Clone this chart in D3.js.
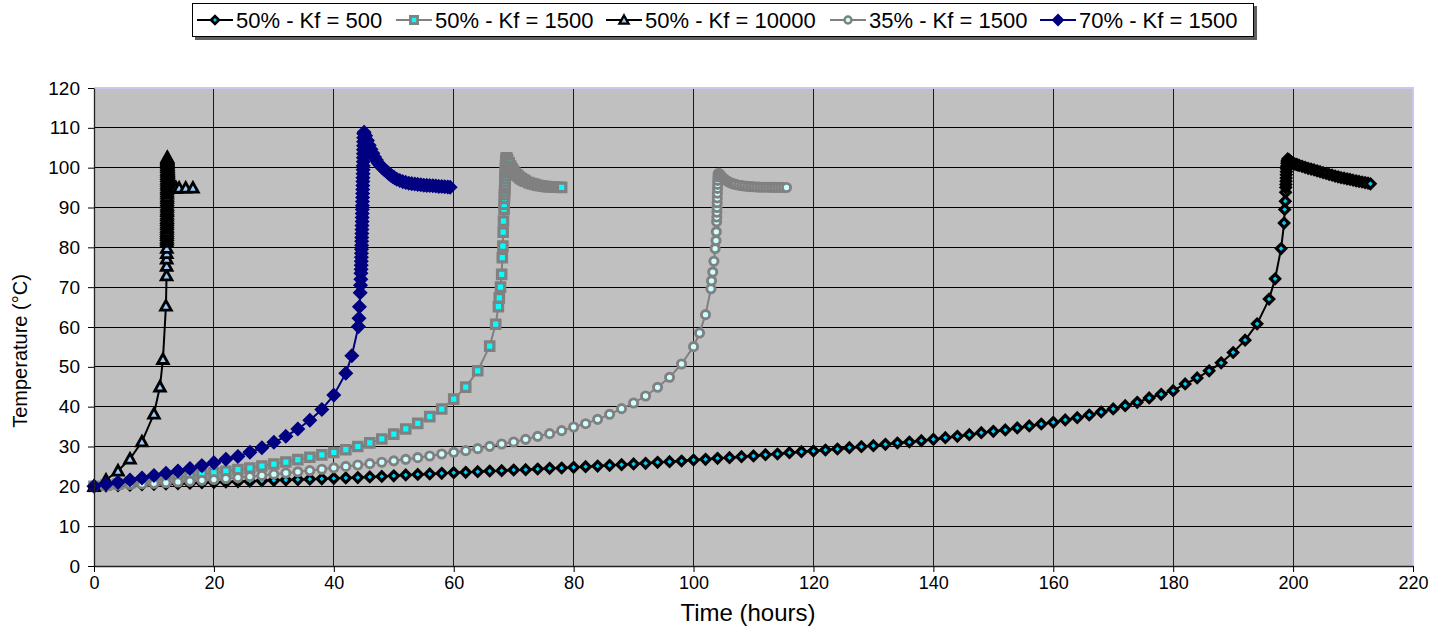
<!DOCTYPE html>
<html><head><meta charset="utf-8">
<script src="https://cdn.jsdelivr.net/npm/d3@7"></script>
<style>
html,body{margin:0;padding:0;background:#fff;}
svg{display:block;font-family:Arial,"Liberation Sans",sans-serif;}
</style></head><body>
<svg id="chart" width="1449" height="627"></svg>
<script>
// ---------- DATA ----------
const seriesNames = ["50% - Kf = 500", "50% - Kf = 1500", "50% - Kf = 10000", "35% - Kf = 1500", "70% - Kf = 1500"];
const xTickValues = [0,20,40,60,80,100,120,140,160,180,200,220];
const yTickValues = [0,10,20,30,40,50,60,70,80,90,100,110,120];
const xTitle = "Time (hours)";
const yTitle = "Temperature (°C)";

// [time (hours), temperature (°C)]
const kf500 = [[0,20],[2,20.1],[4,20.2],[6,20.3],[8,20.4],[10,20.5],[12,20.6],[14,20.7],[16,20.8],[18,20.9],[20,21.0],[22,21.1],[24,21.2],[26,21.3],[28,21.4],[30,21.5],[32,21.6],[34,21.7],[36,21.8],[38,21.9],[40,22.0],[42,22.1],[44,22.2],[46,22.35],[48,22.5],[50,22.65],[52,22.85],[54,23.0],[56,23.1],[58,23.27],[60,23.43],[62,23.52],[64,23.68],[66,23.85],[68,23.94],[70,24.1],[72,24.19],[74,24.35],[76,24.52],[78,24.6],[80,24.77],[82,24.94],[84,25.1],[86,25.27],[88,25.44],[90,25.61],[92,25.78],[94,26.03],[96,26.19],[98,26.36],[100,26.61],[102,26.78],[104,27.03],[106,27.2],[108,27.45],[110,27.62],[112,27.95],[114,28.12],[116,28.45],[118,28.7],[120,28.87],[122,29.12],[124,29.37],[126,29.71],[128,29.96],[130,30.21],[132,30.55],[134,30.88],[136,31.13],[138,31.47],[140,31.8],[142,32.22],[144,32.55],[146,32.97],[148,33.47],[150,33.81],[152,34.15],[154,34.65],[156,35.15],[158,35.65],[160,36.07],[162,36.66],[164,37.24],[166,37.91],[168,38.66],[170,39.42],[172,40.25],[174,41.09],[176,42.18],[178,43.1],[180,44.02],[182,45.7],[184,47.2],[186,49.0],[188,51.0],[190,53.6],[192,56.7],[194,60.8],[196,67.0],[197,72.1],[198,79.7],[198.5,86.1],[198.6,89.5],[198.7,91.6],[198.75,93.8],[198.78,95.0],[198.8,95.8],[198.82,96.6],[198.84,97.4],[198.86,98.2],[198.88,99.0],[198.9,99.7],[198.93,100.4],[198.96,101.1],[199.0,101.7],[199.1,102.2],[199.3,102.0],[199.5,101.7],[199.75,101.4],[200,101.1],[200.25,100.95],[200.5,100.85],[200.75,100.7],[201,100.6],[201.5,100.35],[202,100.1],[202.5,99.85],[203,99.65],[203.5,99.45],[204,99.2],[204.5,99.0],[205,98.75],[205.5,98.55],[206,98.3],[206.5,98.1],[207,97.9],[207.5,97.7],[208,97.5],[208.5,97.35],[209,97.2],[209.5,97.05],[210,96.85],[210.5,96.7],[211,96.55],[211.5,96.4],[212,96.25],[212.5,96.1],[212.9,95.95]];

const kf1500 = [[0,20],[2,20.3],[4,20.6],[6,20.9],[8,21.2],[10,21.5],[12,21.85],[14,22.2],[16,22.6],[18,23.0],[20,23.4],[22,23.8],[24,24.2],[26,24.6],[28,25.1],[30,25.6],[32,26.1],[34,26.7],[36,27.3],[38,27.9],[40,28.5],[42,29.2],[44,30.0],[46,30.9],[48,31.9],[50,33.1],[52,34.4],[54,35.8],[56,37.5],[58,39.4],[60,41.9],[62,44.9],[64,49.0],[66,55.2],[67,60.7],[67.45,65.1],[67.6,67.3],[67.8,70.0],[68.0,73.2],[68.1,77.4],[68.2,80.3],[68.25,83.8],[68.3,86.6],[68.4,89.6],[68.42,90.8],[68.45,92.3],[68.47,93.2],[68.49,94.0],[68.51,94.8],[68.53,95.6],[68.55,96.4],[68.57,97.2],[68.59,98.0],[68.61,98.8],[68.63,99.6],[68.65,100.4],[68.67,101.2],[68.7,101.9],[68.75,102.4],[68.85,102.5],[69.0,102.0],[69.25,101.2],[69.5,100.4],[69.75,99.7],[70.0,99.1],[70.25,98.6],[70.5,98.2],[70.75,97.85],[71.0,97.5],[71.25,97.25],[71.5,97.0],[71.75,96.8],[72.0,96.6],[72.5,96.25],[73.0,96.0],[73.5,95.8],[74.0,95.6],[74.5,95.45],[75.0,95.35],[75.5,95.25],[76.0,95.2],[76.5,95.15],[77.0,95.1],[77.5,95.1],[78.0,95.05]];

const kf10000 = [[0,20],[2,21.6],[4,23.9],[6,26.9],[8,31.2],[10,38.2],[11,45.0],[11.5,51.9],[12,65.3],[12.1,72.9],[12.12,75.3],[12.13,77.1],[12.14,78.5],[12.15,79.8],[12.16,81.3],[12.162,81.9],[12.165,82.4],[12.167,83.0],[12.17,83.5],[12.172,84.0],[12.175,84.6],[12.177,85.1],[12.18,85.7],[12.182,86.2],[12.185,86.8],[12.187,87.3],[12.19,87.9],[12.192,88.4],[12.195,89.0],[12.197,89.5],[12.2,90.1],[12.2,90.6],[12.2,91.2],[12.2,91.7],[12.2,92.3],[12.2,92.8],[12.2,93.4],[12.2,93.9],[12.2,94.5],[12.2,95.0],[12.2,95.6],[12.2,96.1],[12.2,96.7],[12.2,97.2],[12.2,97.8],[12.2,98.3],[12.2,98.9],[12.2,99.4],[12.2,100.0],[12.205,100.5],[12.21,101.0],[12.21,101.5],[12.21,101.9],[12.22,102.3],[12.22,102.6],[12.24,102.3],[12.26,102.0],[12.28,101.5],[12.3,101.0],[12.31,100.5],[12.33,100.0],[12.34,99.5],[12.36,99.0],[12.37,98.5],[12.38,98.0],[12.39,97.6],[12.4,97.2],[12.41,96.8],[12.42,96.5],[12.44,96.2],[12.45,95.9],[12.48,95.7],[12.5,95.5],[12.6,95.3],[12.7,95.2],[12.8,95.1],[12.9,95.05],[13.0,95.0],[13.1,94.97],[13.2,94.95],[13.3,94.92],[13.4,94.9],[13.5,94.9],[13.6,94.9],[13.7,94.9],[14.2,94.9],[15.3,94.9],[16.5,94.9]];

const pct35 = [[0,20],[2,20.15],[4,20.3],[6,20.45],[8,20.6],[10,20.75],[12,20.9],[14,21.1],[16,21.3],[18,21.5],[20,21.7],[22,21.95],[24,22.2],[26,22.45],[28,22.75],[30,23.05],[32,23.35],[34,23.65],[36,23.95],[38,24.3],[40,24.65],[42,25.0],[44,25.35],[46,25.7],[48,26.05],[50,26.4],[52,26.78],[54,27.2],[56,27.62],[58,28.12],[60,28.54],[62,28.96],[64,29.46],[66,30.04],[68,30.63],[70,31.13],[72,31.8],[74,32.55],[76,33.22],[78,33.98],[80,34.9],[82,35.73],[84,36.82],[86,38.08],[88,39.5],[90,40.92],[92,42.68],[94,44.86],[96,47.37],[98,50.72],[100,55.07],[101,58.5],[102,63.1],[102.9,69.6],[103.0,71.6],[103.2,73.8],[103.4,76.5],[103.6,79.7],[103.75,81.7],[103.8,83.9],[103.85,86.4],[103.88,87.6],[103.9,88.8],[103.92,90.0],[103.94,91.2],[103.96,92.4],[103.98,93.6],[104.0,94.8],[104.02,95.8],[104.04,96.8],[104.07,97.7],[104.1,98.4],[104.2,98.6],[104.4,98.3],[104.6,97.9],[104.8,97.6],[105.0,97.3],[105.25,97.0],[105.5,96.75],[105.75,96.5],[106.0,96.3],[106.25,96.15],[106.5,96.0],[106.75,95.9],[107.0,95.8],[107.5,95.6],[108.0,95.5],[108.5,95.4],[109.0,95.3],[109.5,95.25],[110.0,95.2],[110.5,95.15],[111.0,95.12],[111.5,95.1],[112.0,95.1],[112.5,95.08],[113.0,95.06],[113.5,95.05],[114.0,95.05],[114.5,95.04],[115.0,95.03],[115.5,95.02]];

const pct70 = [[0,20],[2,20.5],[4,21.0],[6,21.6],[8,22.1],[10,22.7],[12,23.3],[14,23.85],[16,24.5],[18,25.2],[20,25.95],[22,26.8],[24,27.5],[26,28.55],[28,29.7],[30,31.05],[32,32.55],[34,34.4],[36,36.6],[38,39.3],[40,42.9],[42,48.4],[43,52.8],[44.1,60.1],[44.2,62.2],[44.27,65.1],[44.4,68.6],[44.45,70.5],[44.5,72.0],[44.52,73.5],[44.55,74.5],[44.57,75.5],[44.58,76.5],[44.6,77.5],[44.61,78.5],[44.62,79.5],[44.64,80.5],[44.65,81.5],[44.66,82.5],[44.68,83.5],[44.69,84.5],[44.7,85.5],[44.72,86.5],[44.73,87.5],[44.74,88.5],[44.76,89.5],[44.77,90.5],[44.78,91.5],[44.8,92.5],[44.81,93.5],[44.82,94.5],[44.84,95.5],[44.85,96.5],[44.86,97.5],[44.88,98.5],[44.89,99.5],[44.9,100.5],[44.92,101.5],[44.93,102.5],[44.94,103.5],[44.95,104.5],[44.96,105.5],[44.97,106.5],[44.98,107.5],[45.0,108.5],[45.05,108.9],[45.3,108.0],[45.6,106.8],[45.9,105.6],[46.2,104.6],[46.5,103.6],[46.8,102.7],[47.1,101.9],[47.4,101.2],[47.7,100.6],[48.0,100.1],[48.3,99.7],[48.6,99.3],[48.9,98.9],[49.2,98.5],[49.5,98.1],[49.8,97.8],[50.1,97.5],[50.5,97.1],[51.0,96.8],[51.5,96.5],[52.0,96.3],[52.5,96.1],[53.0,96.0],[53.5,95.9],[54.0,95.8],[54.5,95.7],[55.0,95.6],[55.5,95.55],[56.0,95.5],[56.5,95.45],[57.0,95.4],[57.5,95.3],[58.0,95.25],[58.5,95.2],[59.0,95.15],[59.4,95.1]];

const seriesData = [kf500, kf1500, kf10000, pct35, pct70];

// ---------- STYLE ----------
const styles = [
  {line:"#000000", marker:"diamond", r:4.6, fill:"#00ccff", stroke:"#000000", sw:3.2},
  {line:"#808080", marker:"square",  r:4.2, fill:"#00ffff", stroke:"#808080", sw:3.2},
  {line:"#000000", marker:"triangle",r:5.3, fill:"#99ccff", stroke:"#000000", sw:2.8},
  {line:"#808080", marker:"circle",  r:4.1, fill:"#ccffff", stroke:"#808080", sw:2.9},
  {line:"#000080", marker:"diamond", r:6.4, fill:"#000080", stroke:"#000080", sw:1.6}
];
const shapes = {
  diamond: r => `M0,${-r}L${r},0L0,${r}L${-r},0Z`,
  square: r => `M${-r},${-r}H${r}V${r}H${-r}Z`,
  triangle: r => `M0,${-r}L${r},${r*0.8}L${-r},${r*0.8}Z`,
  circle: r => `M${r},0A${r},${r} 0 1,1 ${-r},0A${r},${r} 0 1,1 ${r},0Z`
};

const plot = {left:94, right:1413, top:88, bottom:566};
const x = d3.scaleLinear().domain([0,220]).range([plot.left, plot.right]);
const y = d3.scaleLinear().domain([0,120]).range([plot.bottom, plot.top]);
const svg = d3.select("#chart");

// plot area
svg.append("rect").attr("x",plot.left).attr("y",plot.top)
  .attr("width",plot.right-plot.left).attr("height",plot.bottom-plot.top)
  .attr("fill","#c0c0c0");

// gridlines
const grid = svg.append("g").attr("shape-rendering","crispEdges");
grid.selectAll("line.h").data(yTickValues.filter(v => v>0 && v<120)).join("line")
  .attr("class","h").attr("x1",plot.left).attr("x2",plot.right)
  .attr("y1",d=>y(d)).attr("y2",d=>y(d)).attr("stroke","#000").attr("stroke-width",1);
grid.selectAll("line.v").data(xTickValues.filter(v => v>0 && v<220)).join("line")
  .attr("class","v").attr("y1",plot.top).attr("y2",plot.bottom)
  .attr("x1",d=>x(d)).attr("x2",d=>x(d)).attr("stroke","#1a1a1a").attr("stroke-width",1);

// top/right border
svg.append("path").attr("d",`M${plot.left},${plot.top}H${plot.right}V${plot.bottom}`)
  .attr("fill","none").attr("stroke","#c8c8f0").attr("stroke-width",2);

// series
const lineGen = d3.line().x(d=>x(d[0])).y(d=>y(d[1]));
seriesData.forEach((data,i)=>{
  const st = styles[i];
  const g = svg.append("g");
  g.append("path").datum(data).attr("d",lineGen).attr("fill","none")
    .attr("stroke",st.line).attr("stroke-width",2).attr("stroke-linejoin","round");
  g.selectAll("path.m").data(data).join("path").attr("class","m")
    .attr("d",shapes[st.marker](st.r))
    .attr("transform",d=>`translate(${x(d[0])},${y(d[1])})`)
    .attr("fill",st.fill).attr("stroke",st.stroke).attr("stroke-width",st.sw)
    .attr("stroke-linejoin","miter");
});

// axes
const yAxis = svg.append("g").attr("transform",`translate(${plot.left},0)`)
  .call(d3.axisLeft(y).tickValues(yTickValues).tickSize(6).tickSizeOuter(0).tickPadding(8));
const xAxis = svg.append("g").attr("transform",`translate(0,${plot.bottom})`)
  .call(d3.axisBottom(x).tickValues(xTickValues).tickSize(6).tickSizeOuter(0).tickPadding(4));
[yAxis,xAxis].forEach(a=>{
  a.selectAll(".domain").attr("stroke","#222").attr("stroke-width",1.3);
  a.selectAll(".tick line").attr("stroke","#000");
  a.selectAll("text").attr("fill","#000").attr("font-family","Arial, 'Liberation Sans', sans-serif");
});
yAxis.selectAll("text").attr("font-size",19);
xAxis.selectAll("text").attr("font-size",18);

// axis titles
svg.append("text").attr("transform","translate(27,351) rotate(-90)")
  .attr("text-anchor","middle").attr("font-size",20).text(yTitle);
svg.append("text").attr("x",748).attr("y",621)
  .attr("text-anchor","middle").attr("font-size",24).text(xTitle);

// legend
const leg = svg.append("g");
leg.append("rect").attr("x",195).attr("y",6).attr("width",1062).attr("height",34).attr("fill","#606060");
leg.append("rect").attr("x",192.5).attr("y",3.5).attr("width",1061).attr("height",33)
  .attr("fill","#fff").attr("stroke","#000").attr("stroke-width",1);
const legStarts = [197,396,606,830,1040];
seriesNames.forEach((name,i)=>{
  const st = styles[i];
  const x0 = legStarts[i], yc = 20;
  leg.append("line").attr("x1",x0).attr("x2",x0+36).attr("y1",yc).attr("y2",yc)
    .attr("stroke",st.line).attr("stroke-width",2);
  leg.append("path").attr("d",shapes[st.marker](st.r*0.85)).attr("transform",`translate(${x0+18},${yc})`)
    .attr("fill",st.fill).attr("stroke",st.stroke).attr("stroke-width",st.sw*0.85);
  leg.append("text").attr("x",x0+39).attr("y",yc+8).attr("font-size",22).text(name);
});
</script>
</body></html>
